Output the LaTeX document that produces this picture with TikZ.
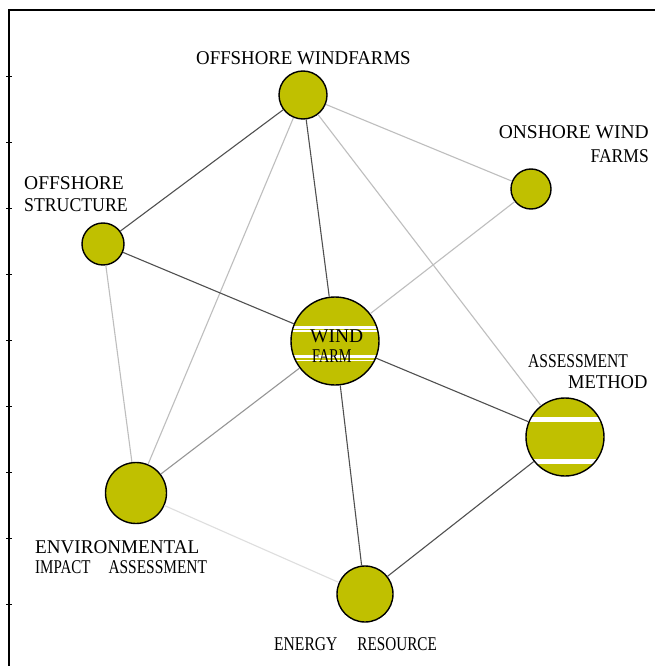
\documentclass[tikz,border=0pt]{standalone}
\usepackage{fontspec}
\setmainfont{Liberation Serif}
\usepackage{graphicx}
\definecolor{nodefill}{RGB}{192,192,0}
\definecolor{edgedark}{RGB}{80,80,80}
\definecolor{edgemid}{RGB}{150,150,150}
\definecolor{edgelight}{RGB}{190,190,190}
\definecolor{edgefaint}{RGB}{222,222,222}
% horizontally condensed text
\newcommand{\squeeze}[2]{\scalebox{#1}[1]{#2}}
\begin{document}
\begin{tikzpicture}[x=1pt,y=-1pt,
  topic/.style={circle,draw=black,line width=1.4pt,fill=nodefill,inner sep=0pt,minimum size=#1},
  band/.style={white,line width=#1},
  darklink/.style={edgedark,line width=1.1pt},
  midlink/.style={edgemid,line width=1.1pt},
  lightlink/.style={edgelight,line width=1.1pt},
  faintlink/.style={edgefaint,line width=1.1pt},
  lbl/.style={inner sep=0pt,font=\fontsize{19.5}{21}\selectfont}]
\useasboundingbox (0,0) rectangle (655,666);
\fill[white] (0,0) rectangle (655,666);

% frame with tick marks on the left side
\draw[line width=1.8pt] (9,666) -- (9,10) -- (655,10);
\foreach \ty in {76,142,208,274,340,406,472,538,604}
  \draw[line width=0.8pt] (6,\ty) -- (12,\ty);

% topics
\node[topic=48pt] (ow)  at (303,95)  {};
\node[topic=40pt] (on)  at (531,189) {};
\node[topic=42pt] (os)  at (103,244) {};
\node[topic=88pt,path picture={
    \draw[band=2.2pt] ([shift={(-60,-13.5)}]path picture bounding box.center) -- ++(120,0);
    \draw[band=1.4pt] ([shift={(-60,-10)}]path picture bounding box.center) -- ++(120,0);
    \draw[band=2.2pt] ([shift={(-60,15.5)}]path picture bounding box.center) -- ++(120,0);
    \draw[band=1.4pt] ([shift={(-60,19.5)}]path picture bounding box.center) -- ++(120,0);
  }] (wf) at (335,341) {};
\node[topic=78pt,path picture={
    \draw[band=5pt] ([shift={(-50,-18)}]path picture bounding box.center) -- ++(100,0);
    \draw[band=5pt] ([shift={(-50,24)}]path picture bounding box.center) -- ++(100,0);
  }] (am) at (565,437) {};
\node[topic=61pt] (eia) at (136,493) {};
\node[topic=56pt] (er)  at (365,594) {};

% links
\draw[darklink]  (ow) -- (os);
\draw[lightlink] (ow) -- (on);
\draw[darklink]  (ow) -- (wf);
\draw[lightlink] (ow) -- (eia);
\draw[lightlink] (ow) -- (am);
\draw[darklink]  (os) -- (wf);
\draw[lightlink] (os) -- (eia);
\draw[lightlink] (on) -- (wf);
\draw[darklink]  (wf) -- (am);
\draw[midlink]   (wf) -- (eia);
\draw[darklink]  (wf) -- (er);
\draw[darklink]  (am) -- (er);
\draw[faintlink] (eia) -- (er);

% labels
\node[lbl,anchor=base west] (owl) at (196,65) {\squeeze{0.965}{OFFSHORE WINDFARMS}};
\node[lbl,anchor=base east] (onl1) at (649,139) {ONSHORE WIND};
\node[lbl,anchor=base east] (onl2) at (649,162) {\squeeze{0.9}{FARMS}};
\node[lbl,anchor=base west] (osl1) at (24,189) {OFFSHORE};
\node[lbl,anchor=base west] (osl2) at (24,211) {\squeeze{0.91}{STRUCTURE}};
\node[lbl,anchor=base west] (wfl1) at (310,342) {WIND};
\node[lbl,anchor=base west] (wfl2) at (312,362) {\squeeze{0.73}{FARM}};
\node[lbl,anchor=base west] (aml1) at (528,367) {\squeeze{0.8}{ASSESSMENT}};
\node[lbl,anchor=base west] (aml2) at (568,388) {\squeeze{0.95}{METHOD}};
\node[lbl,anchor=base west] (eil1) at (35,553) {\squeeze{0.98}{ENVIRONMENTAL}};
\node[lbl,anchor=base west] (eil2) at (35,573) {\squeeze{0.77}{IMPACT}\hspace{18pt}\squeeze{0.79}{ASSESSMENT}};
\node[lbl,anchor=base west] (erl)  at (274,650) {\squeeze{0.8}{ENERGY}\hspace{20pt}\squeeze{0.78}{RESOURCE}};
\end{tikzpicture}
\end{document}
